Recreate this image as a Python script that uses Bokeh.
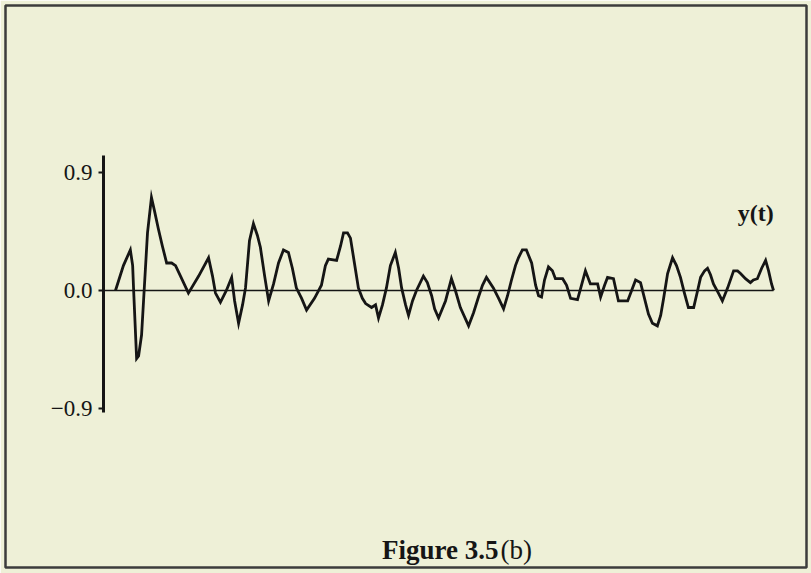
from bokeh.plotting import figure
from bokeh.models import Range1d, FixedTicker, Label, LinearAxis, ColumnDataSource
from bokeh.embed import file_html
from bokeh.resources import INLINE

# ---- data ----
t = [0, 2.4, 4.5, 5.2, 5.5, 6.4, 7.0, 7.9, 8.5, 9.7, 10.9, 11.8, 13.0, 14.2, 15.5, 17.0,
     18.2, 19.7, 22.1, 25.2, 28.2, 29.4, 30.3, 31.8, 33.6, 35.2, 36.1, 37.3, 38.5, 39.4,
     40.6, 41.8, 43.0, 43.9, 45.2, 46.4, 47.9, 49.4, 50.9, 52.4, 53.6, 54.8, 56.4, 57.9,
     60.3, 62.4, 63.6, 64.5, 67.0, 68.2, 69.1, 70.3, 71.2, 72.4, 73.6, 74.8, 75.8, 77.6,
     78.8, 79.7, 80.9, 82.1, 83.3, 84.8, 85.8, 86.7, 87.9, 88.8, 90.0, 91.2, 93.3, 94.5,
     95.8, 96.7, 97.9, 100.0, 101.8, 103.0, 104.5, 107.0, 108.5, 110.0, 111.2, 112.4,
     114.5, 116.1, 117.6, 118.8, 120.0, 121.2, 122.1, 123.3, 124.5, 126.1, 127.3, 128.2,
     129.1, 130.0, 131.2, 132.4, 133.3, 135.5, 136.7, 137.9, 140.0, 141.2, 142.4, 143.9,
     146.1, 147.0, 148.2, 149.1, 150.9, 152.4, 155.2, 156.4, 157.6, 159.1, 160.3, 161.5,
     162.7, 164.2, 165.2, 166.1, 167.3, 168.8, 170.0, 171.2, 172.4, 173.6, 175.2, 176.4,
     177.3, 178.5, 179.4, 180.3, 181.2, 182.7, 183.9, 185.5, 187.3, 188.5, 189.4, 190.9,
     192.4, 193.3, 194.5, 195.8, 197.0, 197.9, 198.8, 199.4]
y = [0, 0.19, 0.31, 0.19, 0, -0.52, -0.50, -0.34, -0.08, 0.44, 0.71, 0.61, 0.47, 0.34, 0.21, 0.21,
     0.19, 0.11, -0.02, 0.11, 0.25, 0.11, -0.02, -0.09, 0, 0.10, -0.08, -0.25, -0.11, 0.02,
     0.38, 0.51, 0.42, 0.33, 0.11, -0.08, 0.05, 0.21, 0.31, 0.29, 0.17, 0.02, -0.06, -0.15,
     -0.06, 0.04, 0.19, 0.24, 0.23, 0.34, 0.44, 0.44, 0.40, 0.21, 0.02, -0.06, -0.10, -0.13,
     -0.11, -0.21, -0.11, 0.02, 0.19, 0.29, 0.17, 0.02, -0.11, -0.19, -0.08, 0, 0.11, 0.06,
     -0.04, -0.14, -0.21, -0.08, 0.09, 0, -0.13, -0.27, -0.17, -0.05, 0.04, 0.10,
     0.02, -0.06, -0.14, -0.04, 0.08, 0.19, 0.25, 0.31, 0.31, 0.21, 0.04, -0.04,
     -0.05, 0.08, 0.18, 0.15, 0.09, 0.09, 0.04, -0.06, -0.07, 0.04, 0.15, 0.05,
     0.05, -0.05, 0.04, 0.10, 0.09, -0.08, -0.08, 0, 0.08, 0.06, -0.06, -0.18,
     -0.25, -0.27, -0.19, -0.06, 0.13, 0.25, 0.19, 0.10, -0.02, -0.13, -0.13, 0,
     0.10, 0.15, 0.17, 0.12, 0.05, -0.02, -0.08, 0.02, 0.15, 0.15, 0.13, 0.09,
     0.06, 0.08, 0.09, 0.17, 0.23, 0.15, 0.05, 0]
y_ticks = [-0.9, 0.0, 0.9]
y_tick_labels = ["\u22120.9", "0.0", "0.9"]
series_name = "y(t)"
caption_main = "Figure 3.5"
caption_sub = "(b)"

BG = "#eef0d7"
INK = "#151515"
FONT = "Liberation Serif"

AXIS_T = -3.64          # time position where the vertical axis is drawn
Y_LO, Y_HI = -0.931, 1.031  # extent of the vertical axis line

p = figure(width=811, height=573, output_backend="svg", toolbar_location=None,
           x_range=Range1d(-33.33, 209.39), y_range=Range1d(-2.115, 2.176),
           x_axis_location=None, y_axis_location=None,
           min_border_left=5, min_border_right=5, min_border_top=5, min_border_bottom=6)
p.background_fill_color = BG
p.border_fill_color = BG
p.outline_line_color = "#3c3c3c"
p.outline_line_width = 2.5
p.grid.visible = False

ax = LinearAxis(fixed_location=AXIS_T, bounds=(Y_LO, Y_HI),
                ticker=FixedTicker(ticks=y_ticks),
                major_label_overrides={v: s for v, s in zip(y_ticks, y_tick_labels)})
ax.axis_line_width = 3
ax.axis_line_color = INK
ax.major_tick_line_color = INK
ax.major_tick_line_width = 2
ax.major_tick_out = 5
ax.major_tick_in = 0
ax.minor_tick_line_color = None
ax.major_label_text_font = FONT
ax.major_label_text_font_size = "23px"
ax.major_label_text_color = INK
ax.major_label_standoff = 6
p.add_layout(ax, "left")

# zero line
p.line([AXIS_T, t[-1]], [0, 0], line_color=INK, line_width=1.5)
# signal
src = ColumnDataSource(dict(t=t, y=y))
p.line("t", "y", source=src, line_color=INK, line_width=2.8, line_join="miter")

p.add_layout(Label(x=194, y=0.59, text=series_name, text_font=FONT, text_font_size="24px",
                   text_font_style="bold", text_color=INK, text_align="center",
                   text_baseline="middle"))

# caption (screen units relative to the frame)
p.add_layout(Label(x=493, y=18, x_units="screen", y_units="screen", text=caption_main,
                   text_font=FONT, text_font_size="27px", text_font_style="bold",
                   text_color=INK, text_align="right", text_baseline="middle"))
p.add_layout(Label(x=495, y=18, x_units="screen", y_units="screen", text=caption_sub,
                   text_font=FONT, text_font_size="27px", text_color=INK,
                   text_align="left", text_baseline="middle"))

open("out.html", "w").write(file_html(p, INLINE))
